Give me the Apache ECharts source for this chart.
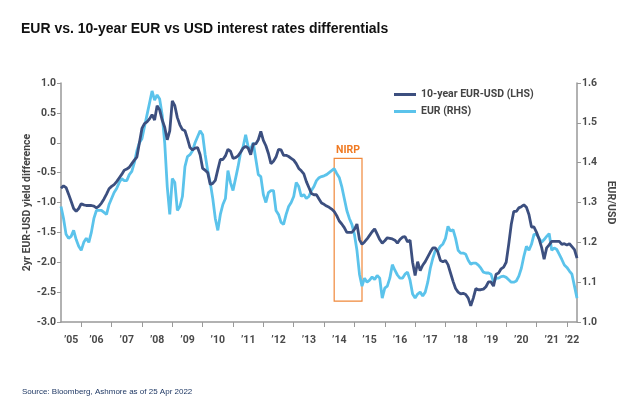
<!DOCTYPE html>
<html>
<head>
<meta charset="utf-8">
<script src="https://cdn.jsdelivr.net/npm/echarts@6/dist/echarts.min.js"></script>
<style>
  html, body { margin: 0; padding: 0; background: #fff; }
  #chart { width: 624px; height: 399px; }
</style>
</head>
<body>
<div id="chart"></div>
<script>
// monthly points, Apr 2005 .. Apr 2022
var startYear = 2005, startMonth = 4, monthCount = 205;
var months = [];
for (var k = 0; k < monthCount; k++) {
  var m = startMonth - 1 + k;
  var yy = startYear + Math.floor(m / 12);
  var mm = (m % 12) + 1;
  months.push(yy + '-' + (mm < 10 ? '0' + mm : mm));
}

// 10-year EUR-USD yield differential (LHS)
var diff10y = [
  -0.76,-0.72,-0.75,-0.86,-0.98,-1.10,-1.15,-1.10,-1.02,-1.04,
  -1.05,-1.05,-1.05,-1.06,-1.09,-1.06,-1.01,-0.94,-0.86,-0.77,
  -0.73,-0.70,-0.65,-0.59,-0.53,-0.46,-0.44,-0.41,-0.35,-0.29,
  -0.24,0.00,0.24,0.32,0.35,0.40,0.47,0.38,0.62,0.55,
  0.38,0.26,0.05,0.20,0.70,0.62,0.42,0.30,0.22,0.20,
  0.07,-0.08,-0.12,-0.09,-0.08,-0.20,-0.43,-0.46,-0.50,-0.70,
  -0.68,-0.63,-0.45,-0.28,-0.28,-0.22,-0.11,-0.14,-0.26,-0.25,
  -0.22,-0.16,-0.09,-0.06,-0.09,-0.20,-0.02,-0.02,0.05,0.19,
  0.04,-0.05,-0.18,-0.35,-0.31,-0.24,-0.11,-0.12,-0.21,-0.21,
  -0.23,-0.26,-0.29,-0.35,-0.43,-0.47,-0.52,-0.65,-0.75,-0.85,
  -0.87,-0.87,-0.94,-1.01,-1.03,-1.06,-1.08,-1.11,-1.15,-1.22,
  -1.31,-1.36,-1.42,-1.50,-1.50,-1.50,-1.45,-1.36,-1.62,-1.70,
  -1.66,-1.61,-1.55,-1.49,-1.44,-1.53,-1.62,-1.68,-1.64,-1.59,
  -1.60,-1.61,-1.63,-1.68,-1.62,-1.58,-1.57,-1.66,-1.63,-2.00,
  -2.22,-1.99,-2.14,-2.05,-1.99,-1.91,-1.83,-1.76,-1.76,-1.83,
  -1.97,-1.99,-1.97,-2.04,-2.18,-2.32,-2.44,-2.50,-2.53,-2.52,
  -2.54,-2.60,-2.73,-2.60,-2.44,-2.46,-2.46,-2.45,-2.41,-2.33,
  -2.33,-2.40,-2.20,-2.18,-2.11,-2.08,-2.00,-1.70,-1.37,-1.15,
  -1.15,-1.09,-1.07,-1.04,-1.08,-1.20,-1.41,-1.41,-1.50,-1.61,
  -1.75,-1.95,-1.76,-1.71,-1.65,-1.65,-1.65,-1.65,-1.70,-1.69,
  -1.71,-1.69,-1.74,-1.79,-1.93
];

// EUR/USD spot (RHS)
var eurusd = [
  1.29,1.26,1.22,1.21,1.215,1.23,1.207,1.19,1.18,1.20,
  1.21,1.20,1.225,1.26,1.28,1.28,1.28,1.275,1.27,1.295,
  1.31,1.325,1.335,1.35,1.36,1.355,1.355,1.37,1.378,1.40,
  1.43,1.45,1.46,1.49,1.52,1.55,1.58,1.557,1.57,1.56,
  1.52,1.45,1.34,1.27,1.36,1.35,1.28,1.29,1.315,1.39,
  1.415,1.42,1.43,1.45,1.465,1.48,1.47,1.42,1.38,1.35,
  1.31,1.26,1.23,1.27,1.295,1.31,1.38,1.35,1.33,1.36,
  1.39,1.425,1.44,1.47,1.44,1.435,1.45,1.41,1.37,1.365,
  1.32,1.30,1.325,1.33,1.33,1.28,1.27,1.25,1.245,1.27,
  1.29,1.30,1.315,1.35,1.34,1.315,1.32,1.31,1.315,1.33,
  1.34,1.355,1.362,1.365,1.367,1.37,1.375,1.38,1.385,1.373,
  1.363,1.34,1.31,1.28,1.26,1.245,1.22,1.18,1.12,1.09,
  1.11,1.10,1.105,1.113,1.107,1.117,1.11,1.06,1.085,1.09,
  1.11,1.144,1.13,1.118,1.11,1.11,1.12,1.125,1.105,1.07,
  1.06,1.07,1.075,1.065,1.075,1.10,1.135,1.16,1.18,1.18,
  1.19,1.196,1.21,1.24,1.228,1.232,1.21,1.18,1.173,1.173,
  1.17,1.155,1.145,1.148,1.148,1.143,1.135,1.125,1.123,1.123,
  1.12,1.10,1.11,1.11,1.114,1.115,1.112,1.106,1.10,1.10,
  1.103,1.115,1.135,1.165,1.19,1.18,1.195,1.22,1.22,1.21,
  1.20,1.207,1.215,1.222,1.18,1.186,1.182,1.17,1.157,1.143,
  1.137,1.128,1.12,1.09,1.06
];

// NIRP window on the LHS scale
var nirpStart = '2014-04', nirpEnd = '2015-03';
var nirpTop = -0.26, nirpBottom = -2.65;

var axisFont = "'Liberation Sans Narrow', 'Arial Narrow', Roboto, sans-serif";
var axisColor = '#999';
var labelColor = '#4a4a4a';

var myChart = echarts.init(document.getElementById('chart'));

option = {
  animation: false,
  title: [
    {
      text: 'EUR vs. 10-year EUR vs USD interest rates differentials',
      left: 16,
      top: 17,
      textStyle: { fontFamily: 'Liberation Sans, Arial, sans-serif', fontSize: 14, fontWeight: 'bold', color: '#111' }
    },
    {
      text: 'Source: Bloomberg, Ashmore as of 25 Apr 2022',
      left: 17,
      top: 383,
      textStyle: { fontFamily: 'Liberation Sans, Arial, sans-serif', fontSize: 8, fontWeight: 'normal', color: '#1F3864' }
    }
  ],
  legend: {
    orient: 'vertical',
    left: 389,
    top: 84,
    itemWidth: 22,
    itemHeight: 3,
    itemGap: 6,
    icon: 'rect',
    data: ['10-year EUR-USD (LHS)', 'EUR (RHS)'],
    textStyle: { fontFamily: axisFont, fontSize: 10.5, fontWeight: 'bold', color: '#444' }
  },
  grid: { left: 61, right: 45, top: 83, bottom: 77 },
  xAxis: {
    type: 'category',
    boundaryGap: false,
    data: months,
    axisLine: { onZero: false, lineStyle: { color: axisColor, width: 1.5 } },
    axisTick: {
      length: 5,
      lineStyle: { color: axisColor },
      interval: function (idx, val) { return val.slice(5) === '12'; }
    },
    axisLabel: {
      margin: 13,
      fontFamily: axisFont,
      fontSize: 10.5,
      fontWeight: 'bold',
      color: labelColor,
      interval: function (idx, val) {
        if (val === '2005-08' || val === '2022-02') return true;
        var y = +val.slice(0, 4);
        return val.slice(5) === '06' && y >= 2006 && y <= 2021;
      },
      formatter: function (val) { return '\u2019' + val.slice(2, 4); }
    },
    splitLine: { show: false }
  },
  yAxis: [
    {
      type: 'value',
      position: 'left',
      min: -3,
      max: 1,
      interval: 0.5,
      name: '2yr EUR-USD yield difference',
      nameLocation: 'middle',
      nameGap: 28,
      nameMoveOverlap: false,
      nameRotate: 90,
      nameTextStyle: { fontFamily: axisFont, fontSize: 10.5, fontWeight: 'bold', color: '#444' },
      axisLine: { show: true, lineStyle: { color: axisColor, width: 1.5 } },
      axisTick: { show: true, length: 4, lineStyle: { color: axisColor } },
      axisLabel: {
        margin: 5,
        fontFamily: axisFont,
        fontSize: 10.5,
        fontWeight: 'bold',
        color: labelColor,
        formatter: function (v) { return v === 0 ? '0' : v.toFixed(1); }
      },
      splitLine: { show: false }
    },
    {
      type: 'value',
      position: 'right',
      min: 1.0,
      max: 1.6,
      interval: 0.1,
      name: 'EUR/USD',
      nameLocation: 'middle',
      nameGap: 28,
      nameMoveOverlap: false,
      nameRotate: -90,
      nameTextStyle: { fontFamily: axisFont, fontSize: 10.5, fontWeight: 'bold', color: '#444' },
      axisLine: { show: true, lineStyle: { color: axisColor, width: 1.5 } },
      axisTick: { show: true, length: 4, lineStyle: { color: axisColor } },
      axisLabel: {
        margin: 5,
        fontFamily: axisFont,
        fontSize: 10.5,
        fontWeight: 'bold',
        color: labelColor,
        formatter: function (v) { return v.toFixed(1); }
      },
      splitLine: { show: false }
    }
  ],
  series: [
    {
      name: 'EUR (RHS)',
      type: 'line',
      yAxisIndex: 1,
      data: eurusd,
      showSymbol: false,
      color: '#5BC3EB',
      lineStyle: { width: 2.8, color: '#5BC3EB' }
    },
    {
      name: '10-year EUR-USD (LHS)',
      type: 'line',
      yAxisIndex: 0,
      data: diff10y,
      showSymbol: false,
      color: '#3C4F7F',
      lineStyle: { width: 2.8, color: '#3C4F7F' },
      markArea: {
        silent: true,
        itemStyle: { color: 'rgba(0,0,0,0)', borderColor: '#F0883A', borderWidth: 1.2 },
        label: {
          show: true,
          position: 'top',
          distance: 2,
          color: '#F07A22',
          fontFamily: axisFont,
          fontSize: 10.5,
          fontWeight: 'bold'
        },
        data: [[
          { name: 'NIRP', xAxis: nirpStart, yAxis: nirpTop },
          { xAxis: nirpEnd, yAxis: nirpBottom }
        ]]
      }
    }
  ]
};
myChart.setOption(option);
</script>
</body>
</html>
